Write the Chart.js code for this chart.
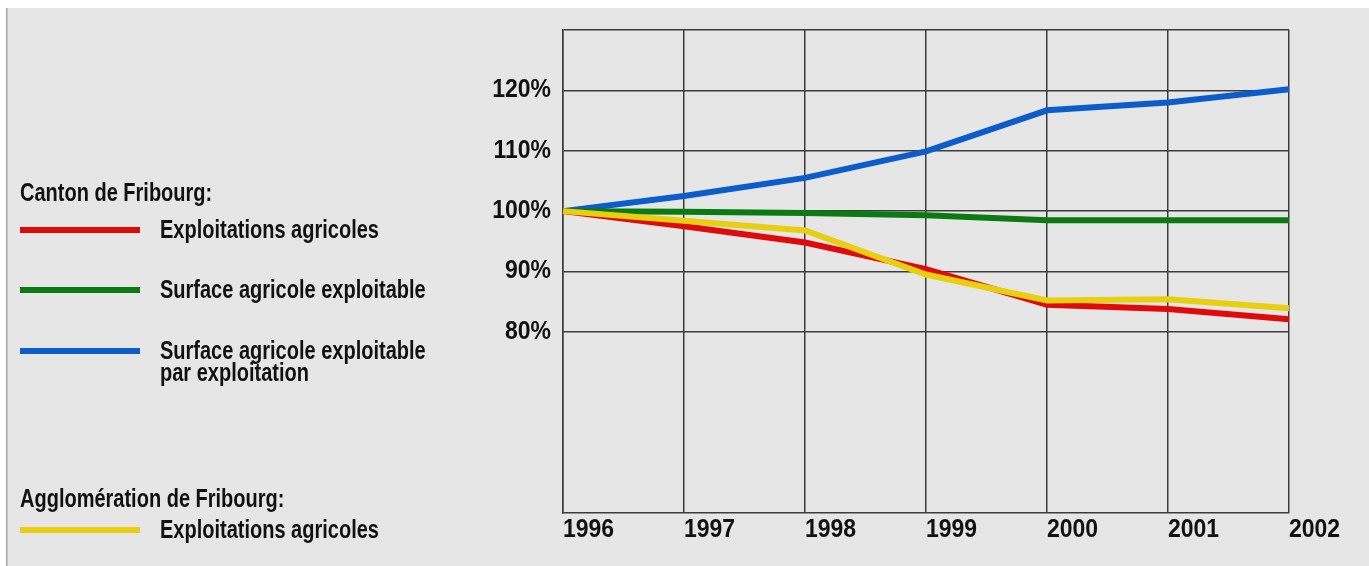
<!DOCTYPE html>
<html>
<head>
<meta charset="utf-8">
<script src="https://cdn.jsdelivr.net/npm/chart.js@4.4.1/dist/chart.umd.min.js"></script>
<style>
  html, body { margin: 0; padding: 0; background: #fff; }
</style>
</head>
<body>
<canvas id="chart" width="1369" height="566"></canvas>
<script>
// data (index 1996 = 100%)
const years = ['1996', '1997', '1998', '1999', '2000', '2001', '2002'];
const cantonExploitations = [100, 97.5, 94.8, 90.4, 84.5, 83.8, 82.1];
const cantonSurface = [100, 99.9, 99.7, 99.3, 98.5, 98.5, 98.5];
const cantonSurfaceParExploitation = [100, 102.5, 105.5, 109.9, 116.7, 118.0, 120.2];
const agglomerationExploitations = [100, 98.4, 96.8, 89.5, 85.2, 85.4, 83.9];
const yLabelled = [80, 90, 100, 110, 120];

const FONT = '"Liberation Sans", Arial, sans-serif';
const GRID = '#3c3c3c';
// original uses a condensed bold face: squeeze axis text a bit, legend text more
const AXIS_NARROW = 0.92;
const LEGEND_NARROW = 0.8;

// legend groups: title + dataset indexes, rows drawn left of the plot
const legendGroups = [
  { title: 'Canton de Fribourg:', titleY: 201, items: [{ i: 0, y: 230 }, { i: 1, y: 290 }, { i: 2, y: 351 }] },
  { title: 'Agglomération de Fribourg:', titleY: 507, items: [{ i: 3, y: 530 }] }
];

// fillText maxWidth squeezes the text and keeps the alignment anchor
const condensed = {
  id: 'condensed',
  beforeInit(chart) {
    const c = chart.ctx;
    const fill = c.fillText.bind(c);
    c.narrow = AXIS_NARROW;
    c.fillText = (t, x, y) => fill(t, x, y, c.measureText(t).width * c.narrow);
  }
};

const background = {
  id: 'background',
  beforeDraw(chart) {
    const c = chart.ctx;
    c.save();
    c.fillStyle = '#ffffff';
    c.fillRect(0, 0, chart.width, chart.height);
    c.fillStyle = '#e6e6e6';
    c.fillRect(7, 8, chart.width - 7, chart.height - 8);
    c.fillStyle = '#a8a8a8';
    c.fillRect(6, 8, 1.5, chart.height - 8);
    c.restore();
  }
};

const sideLegend = {
  id: 'sideLegend',
  afterDraw(chart) {
    const c = chart.ctx;
    c.save();
    c.narrow = LEGEND_NARROW;
    c.font = 'bold 25px ' + FONT;
    c.fillStyle = '#111';
    c.textAlign = 'left';
    c.textBaseline = 'alphabetic';
    legendGroups.forEach(g => {
      c.fillText(g.title, 20, g.titleY);
      g.items.forEach(it => {
        const ds = chart.data.datasets[it.i];
        c.strokeStyle = ds.borderColor;
        c.lineWidth = 6;
        c.beginPath();
        c.moveTo(20, it.y);
        c.lineTo(140, it.y);
        c.stroke();
        ds.label.split('\n').forEach((line, k) => {
          c.fillText(line, 160, it.y + 8 + k * 22);
        });
      });
    });
    c.narrow = AXIS_NARROW;
    c.restore();
  }
};

new Chart(document.getElementById('chart'), {
  type: 'line',
  data: {
    labels: years,
    datasets: [
      { label: 'Exploitations agricoles', data: cantonExploitations, borderColor: '#e10a0a', order: 1 },
      { label: 'Surface agricole exploitable', data: cantonSurface, borderColor: '#0c7a12', order: 2 },
      { label: 'Surface agricole exploitable\npar exploitation', data: cantonSurfaceParExploitation, borderColor: '#0c5ccc', order: 3 },
      { label: 'Exploitations agricoles', data: agglomerationExploitations, borderColor: '#e8d010', order: 0 }
    ]
  },
  options: {
    responsive: false,
    animation: false,
    events: [],
    layout: { padding: { left: 493, right: 80, top: 30, bottom: 13 } },
    elements: {
      line: { tension: 0, borderWidth: 6, fill: false, borderCapStyle: 'butt' },
      point: { radius: 0 }
    },
    plugins: { legend: { display: false }, tooltip: { enabled: false } },
    scales: {
      x: {
        offset: false,
        afterFit(scale) { scale.height = 40; },
        grid: { color: GRID, lineWidth: 1.5, drawTicks: false },
        border: { color: GRID, width: 1.5 },
        ticks: {
          align: 'start', padding: 2, maxRotation: 0, autoSkip: false,
          color: '#111', font: { family: FONT, size: 25, weight: 'bold' }
        }
      },
      y: {
        min: 50, max: 130,
        afterFit(scale) { scale.width = 70; },
        grid: {
          lineWidth: 1.5, drawTicks: false,
          color: ctx => (ctx.tick && ctx.tick.value >= 80) ? GRID : 'rgba(0,0,0,0)'
        },
        border: { color: GRID, width: 1.5 },
        ticks: {
          stepSize: 10, padding: 12, color: '#111',
          font: { family: FONT, size: 25, weight: 'bold' },
          callback: v => yLabelled.includes(v) ? v + '%' : ''
        }
      }
    }
  },
  plugins: [condensed, background, sideLegend]
});
</script>
</body>
</html>
